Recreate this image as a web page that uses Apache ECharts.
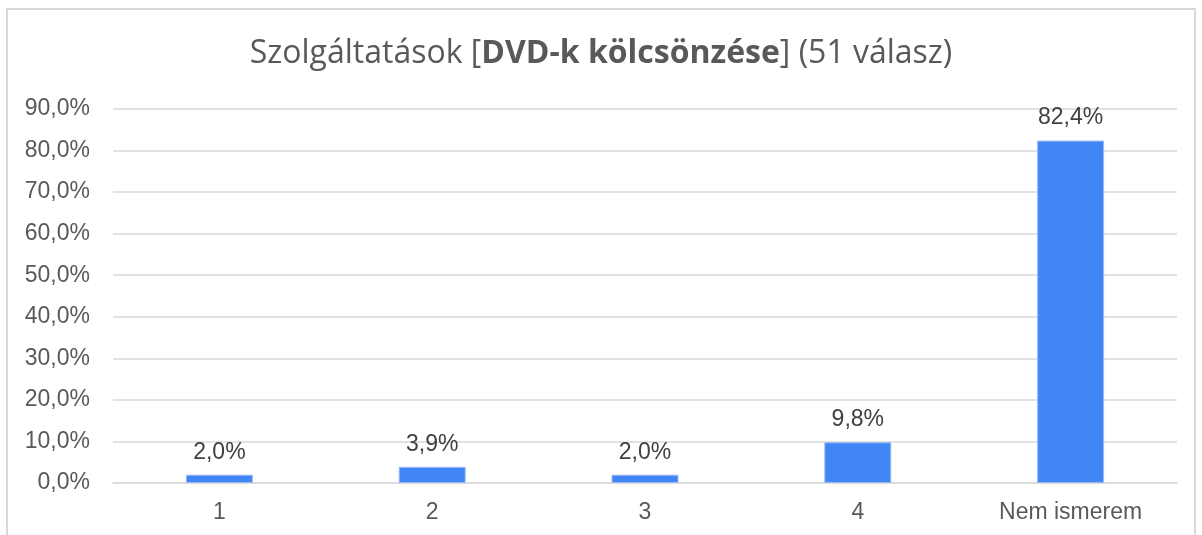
<!DOCTYPE html>
<html>
<head>
<meta charset="utf-8">
<script src="https://cdn.jsdelivr.net/npm/echarts@6/dist/echarts.min.js"></script>
<style>
    html, body { margin: 0; padding: 0; background: #fff; }
    #main { width: 1202px; height: 535px; }
</style>
</head>
<body>
<div id="main"></div>
<script>
// adatok
var categories = ['1', '2', '3', '4', 'Nem ismerem'];
var values = [2.0, 3.9, 2.0, 9.8, 82.4];
var yTicks = [0, 10, 20, 30, 40, 50, 60, 70, 80, 90];

var pct = function (v) {
    return v.toFixed(1).replace('.', ',') + '%';
};

var myChart = echarts.init(document.getElementById('main'));
var options = {
    animation: false,
    graphic: [{
        type: 'rect',
        shape: { x: 7, y: 9, width: 1188, height: 600 },
        style: { fill: 'none', stroke: '#d9d9d9', lineWidth: 2 },
        silent: true
    }],
    title: {
        text: '{n|Szolgáltatások [}{b|DVD-k kölcsönzése}{n|] (51 válasz)}',
        left: 'center',
        top: 33,
        textStyle: {
            fontWeight: 'normal',
            rich: {
                n: { fontFamily: 'Open Sans', fontSize: 32, color: '#595959', fontWeight: 'normal' },
                b: { fontFamily: 'Open Sans', fontSize: 32, color: '#595959', fontWeight: 'bold' }
            }
        }
    },
    grid: { left: 113, right: 25, top: 109, bottom: 52, containLabel: false },
    xAxis: {
        type: 'category',
        data: categories,
        axisLine: { lineStyle: { color: '#d9d9d9', width: 1.5 } },
        axisTick: { show: false },
        axisLabel: { color: '#595959', fontFamily: 'Liberation Sans', fontSize: 23, margin: 18 }
    },
    yAxis: {
        type: 'value',
        min: yTicks[0],
        max: yTicks[yTicks.length - 1],
        interval: 10,
        axisLine: { show: false },
        axisTick: { show: false },
        splitLine: { lineStyle: { color: '#d9d9d9', width: 1.5 } },
        axisLabel: {
            color: '#595959', fontFamily: 'Liberation Sans', fontSize: 23, margin: 23,
            formatter: function (v) { return pct(v); }
        }
    },
    series: [{
        type: 'bar',
        data: values,
        barWidth: 67,
        itemStyle: { color: '#4285f4', borderColor: '#9bbcf7', borderWidth: 1 },
        label: {
            show: true,
            position: 'top',
            distance: 11,
            color: '#404040',
            fontFamily: 'Liberation Sans',
            fontSize: 23,
            formatter: function (p) { return pct(p.value); }
        }
    }]
};
myChart.setOption(options);
</script>
</body>
</html>
